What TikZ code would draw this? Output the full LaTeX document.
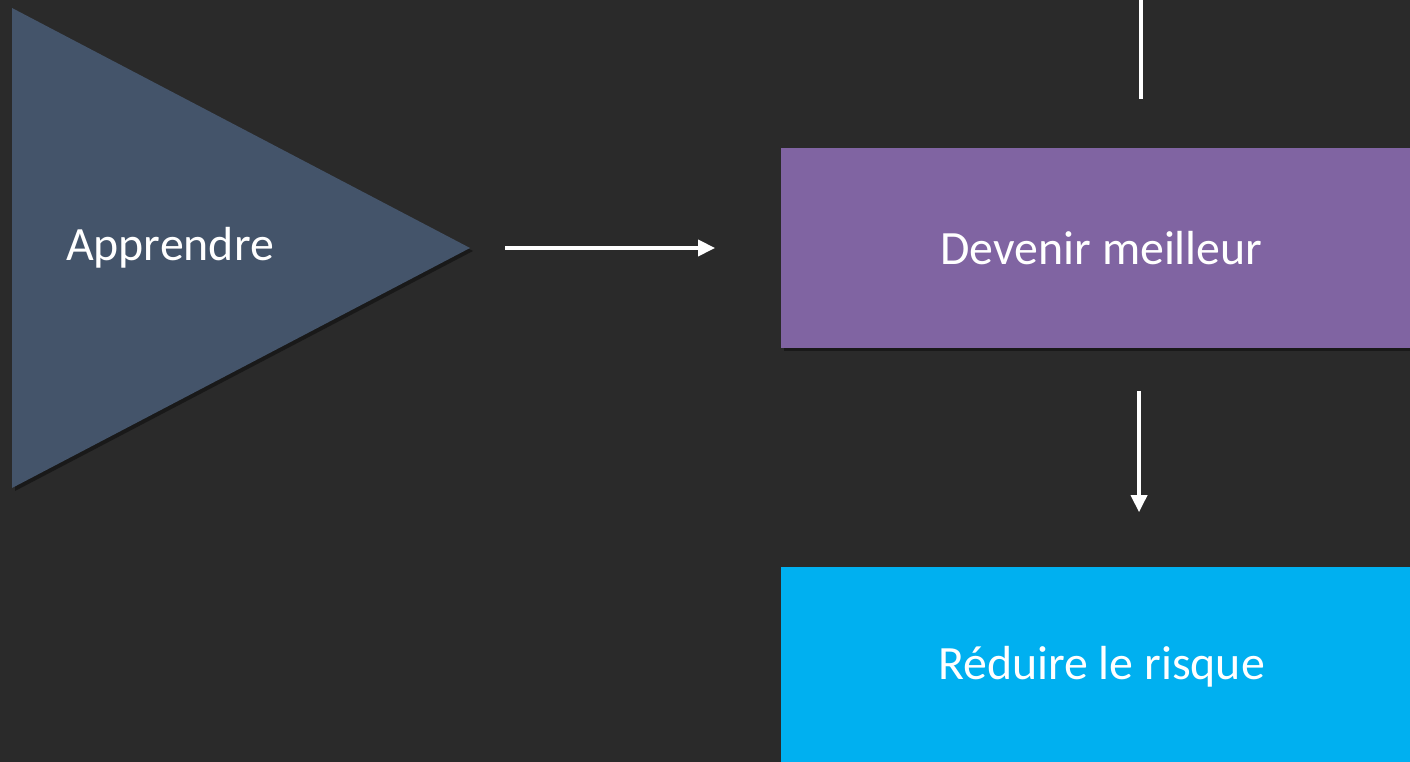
\documentclass[tikz,border=0pt]{standalone}
\usepackage{fontspec}
\setmainfont{Carlito}
\usetikzlibrary{positioning,arrows.meta,shadows}
\definecolor{bgdark}{HTML}{2A2A2A}
\definecolor{slate}{HTML}{44546A}
\definecolor{lavender}{HTML}{8064A2}
\definecolor{skyblue}{HTML}{00B0F0}

\begin{document}
\begin{tikzpicture}[x=0.01cm,y=-0.01cm,
 label/.style={text=white,font=\fontsize{13.6}{16}\selectfont},
 box/.style={label,minimum width=6.41cm,minimum height=2cm,inner sep=0pt,
  drop shadow={shadow xshift=0.03cm,shadow yshift=-0.03cm,fill=black,opacity=0.4}},
 conn/.style={white,line width=1pt,-{Triangle[length=1.7mm,width=1.6mm]}}]
 \useasboundingbox[fill=bgdark](0,0) rectangle (1410,762);
 \clip (0,0) rectangle (1410,762);
 % triangle
 \fill[black,opacity=0.4](15,11)--(473,251)--(15,491)--cycle;
 \fill[slate](12,8)--(470,248)--(12,488)--cycle;
 \node[label] (apprendre) at (170,248) {Apprendre};
 \coordinate (tip) at (470,248);
 % boxes
 \node[box,fill=lavender] (devenir) at (1101.5,248) {Devenir meilleur};
 \node[box,fill=skyblue] (reduire) at (1101.5,667) {Réduire le risque};
 % connectors
 \coordinate (haut) at (1141,0);
 \coordinate (hautfin) at (1141,99);
 \draw[white,line width=1pt] (haut) -- (hautfin);
 \draw[conn,shorten <=0.35cm,shorten >=0.65cm] (tip) -- (devenir.west);
 \draw[conn,shorten <=0.42cm,shorten >=0.54cm] ([xshift=0.375cm]devenir.south) -- ([xshift=0.375cm]reduire.north);
\end{tikzpicture}
\end{document}
